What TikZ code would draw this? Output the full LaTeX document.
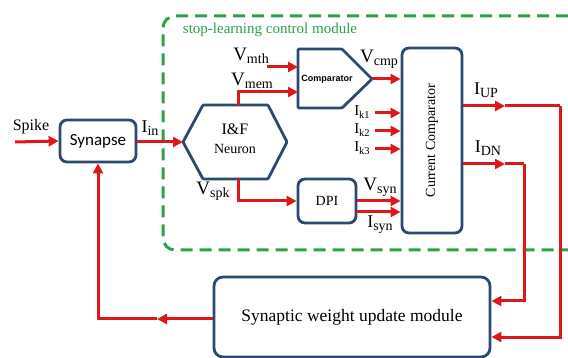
\documentclass[tikz,border=0pt]{standalone}
\usepackage{fontspec}
\setmainfont{Liberation Serif}
\newfontfamily\synfont{Carlito}
\newfontfamily\cmpfont{Liberation Sans}
\usetikzlibrary{arrows.meta}
\definecolor{sigred}{RGB}{222,24,24}
\definecolor{boxblue}{RGB}{44,74,112}
\definecolor{modgreen}{RGB}{46,160,72}
\newcommand{\fs}[1]{\fontsize{#1}{#1}\selectfont}
\newcommand{\sublbl}[4]{{\fs{#1}#2}\raisebox{-3pt}{\fs{#3}#4}}

\begin{document}
    \begin{tikzpicture}[x=1pt,y=-1pt,
            blk/.style={draw=boxblue,line width=2.8pt,rounded corners=7pt,fill=white},
            sig/.style={draw=sigred,line width=3pt,-{Triangle[length=10pt,width=10pt]}},
            wire/.style={draw=sigred,line width=3pt},
            lbl/.style={inner sep=0pt}]
        \useasboundingbox (0,0) rectangle (568,358);
        \draw[modgreen,line width=3pt,dash pattern=on 12pt off 7pt,rounded corners=12pt]
            (568,16) -- (163,16) -- (163,250) -- (568,250);
        \node[lbl,modgreen] (modlbl) at (270,30) {\fs{15}stop-learning control module};

        \node[blk,minimum width=76pt,minimum height=42pt] (syn) at (98,141) {\synfont\fs{17}Synapse};
        \draw[blk,rounded corners=1pt] (183,142) -- (203,105) -- (268,105) -- (287,142)
            -- (268,179) -- (203,179) -- cycle;
        \node[lbl] (nrn) at (235,129) {\fs{16}I\&F};
        \node[lbl] (nrnsub) at (235,149) {\fs{14}Neuron};
        \draw[blk,rounded corners=1pt] (298,49) -- (342,49) -- (372,79) -- (342,108)
            -- (298,108) -- cycle;
        \node[lbl] (cmp) at (327,79) {\cmpfont\bfseries\fs{9}Comparator};
        \node[blk,minimum width=60pt,minimum height=185pt] (ccomp) at (432,140.5)
            {\rotatebox{90}{\fs{14}Current Comparator}};
        \node[blk,minimum width=58pt,minimum height=44pt] (dpi) at (327,201) {\fs{14}DPI};
        \node[blk,minimum width=276pt,minimum height=80pt,rounded corners=9pt] (wum) at (352,317)
            {\raisebox{-4pt}{\fs{17.5}Synaptic weight update module}};

        \coordinate (spkin) at (15,142);
        \coordinate (nrnL) at (183,142);
        \coordinate (nrntop) at (238,105);
        \coordinate (nrnbot) at (238,179);
        \coordinate (mthin) at (267,67);
        \coordinate (cmpin1) at (298,67);
        \coordinate (cmpin2) at (298,92);
        \coordinate (cmptip) at (372,79);
        \coordinate (k1) at (375,113);
        \coordinate (k2) at (375,131);
        \coordinate (k3) at (375,149);
        \coordinate (isyn) at (356,212);
        \coordinate (upmid) at (505,106);
        \coordinate (upR) at (560,106);
        \coordinate (dnmid) at (505,164);
        \coordinate (dnR) at (524,164);
        \coordinate (fbmid) at (157,319);

        \node[lbl] (spk) at (31,127) {\fs{16}Spike};
        \node[lbl] (iin) at (150,128) {\sublbl{18}{I}{14}{in}};
        \node[lbl] (vmth) at (251,56) {\sublbl{19}{V}{14}{mth}};
        \node[lbl] (vmem) at (252,81) {\sublbl{19}{V}{14}{mem}};
        \node[lbl] (vcmp) at (379,59) {\sublbl{19}{V}{14}{cmp}};
        \node[lbl] (vspk) at (213,191) {\sublbl{19}{V}{14}{spk}};
        \node[lbl] (vsyn) at (380,187) {\sublbl{19}{V}{14}{syn}};
        \node[lbl] (isynl) at (380,225) {\sublbl{18}{I}{14}{syn}};
        \node[lbl] (ik1) at (362,112) {\sublbl{15}{I}{10.5}{k1}};
        \node[lbl] (ik2) at (362,130) {\sublbl{15}{I}{10.5}{k2}};
        \node[lbl] (ik3) at (362,148) {\sublbl{15}{I}{10.5}{k3}};
        \node[lbl] (iup) at (486,90) {\sublbl{18}{I}{14}{UP}};
        \node[lbl] (idn) at (488,148) {\sublbl{18}{I}{14}{DN}};

        \draw[sig] (spkin) -- (syn.west);
        \draw[sig] (syn.east |- nrnL) -- (nrnL);
        \draw[sig] (mthin) -- (cmpin1);
        \draw[sig] (nrntop) |- (cmpin2);
        \draw[sig] (cmptip) -- (ccomp.west |- cmptip);
        \draw[sig] (k1) -- (ccomp.west |- k1);
        \draw[sig] (k2) -- (ccomp.west |- k2);
        \draw[sig] (k3) -- (ccomp.west |- k3);
        \draw[sig] (nrnbot) |- (dpi.west);
        \draw[sig] (dpi.east) -- (ccomp.west |- dpi.east);
        \draw[sig] (isyn) -- (ccomp.west |- isyn);
        \draw[sig] (ccomp.east |- upmid) -- (upmid);
        \draw[wire] (upmid) -- (upR);
        \draw[sig] (upR) |- (wum.east |- 0,337);
        \draw[sig] (ccomp.east |- dnmid) -- (dnmid);
        \draw[wire] (dnmid) -- (dnR);
        \draw[sig] (dnR) |- (wum.east |- 0,301);
        \draw[sig] (wum.west |- fbmid) -- (fbmid);
        \draw[sig] (fbmid) -| (syn.south);
    \end{tikzpicture}
\end{document}
